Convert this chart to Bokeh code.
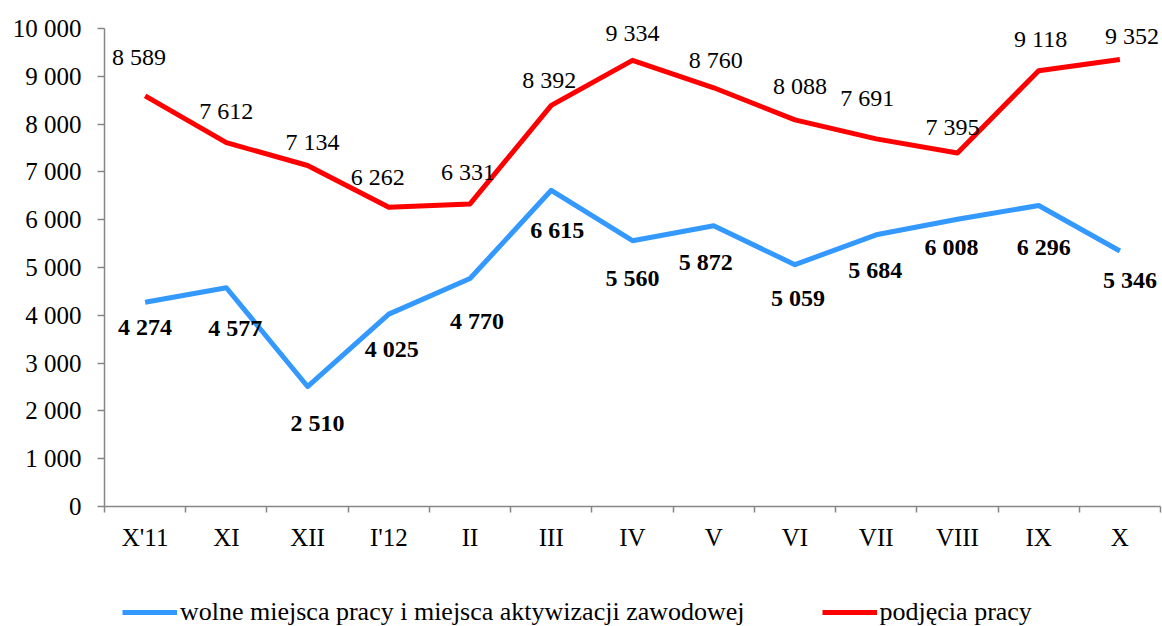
import numpy as np
from bokeh.plotting import figure
from bokeh.layouts import column
from bokeh.models import (ColumnDataSource, FixedTicker, Range1d, Legend, LegendItem)
from bokeh.core.properties import value
from bokeh.embed import file_html
from bokeh.resources import INLINE

# ---- data ----
months = ["X'11", "XI", "XII", "I'12", "II", "III", "IV", "V", "VI", "VII", "VIII", "IX", "X"]
oferty = [4274, 4577, 2510, 4025, 4770, 6615, 5560, 5872, 5059, 5684, 6008, 6296, 5346]
podjecia = [8589, 7612, 7134, 6262, 6331, 8392, 9334, 8760, 8088, 7691, 7395, 9118, 9352]
y_ticks = [0, 1000, 2000, 3000, 4000, 5000, 6000, 7000, 8000, 9000, 10000]
series_names = ["wolne miejsca pracy i miejsca aktywizacji zawodowej", "podjęcia pracy"]

# label placement (screen px offsets from each point)
red_dx = [-6, 0, 5, -11, -2, -2, 0, 2, 5, -9, -5, 2, 12]
red_dy = [-39, -32, -23, -30, -32, -25, -27, -28, -34, -41, -26, -32, -23]
blue_dx = [0, 9, 10, 3, 7, 6, 0, -8, 3, -1, -6, 5, 10]
blue_dy = [25, 40, 36, 35, 43, 40, 37, 36, 33, 35, 28, 41, 29]


def fmt(v):
    return f"{v:,}".replace(",", " ")


FONT = "Liberation Serif"
BLUE = "#3399FF"
RED = "#FF0000"
AXIS = "#868686"

# layout (px)
W = 1162
H_MAIN, H_LEG = 590, 36
LEFT, RIGHT, BOTTOM = 104, 2, 84
FRAME_H = H_MAIN - BOTTOM     # frame spans from top of figure to the zero line
PLOT_TOP_PAD = 28             # gap between figure top and the 10 000 line
y_max = max(y_ticks)
y_end = y_max * FRAME_H / (FRAME_H - PLOT_TOP_PAD)

xs = np.arange(len(months)) + 0.5

src_b = ColumnDataSource(dict(x=xs, y=oferty, lab=[fmt(v) for v in oferty], dx=blue_dx, dy=blue_dy))
src_r = ColumnDataSource(dict(x=xs, y=podjecia, lab=[fmt(v) for v in podjecia], dx=red_dx, dy=red_dy))

p = figure(width=W, height=H_MAIN, output_backend="svg", toolbar_location=None,
           x_range=Range1d(0, len(months)), y_range=Range1d(0, y_end),
           min_border_left=LEFT, min_border_right=RIGHT, min_border_top=0,
           min_border_bottom=BOTTOM)
p.outline_line_color = None
p.grid.grid_line_color = None
p.background_fill_color = "white"
p.border_fill_color = "white"

rb = p.line("x", "y", source=src_b, line_color=BLUE, line_width=5, line_join="round")
rr = p.line("x", "y", source=src_r, line_color=RED, line_width=5, line_join="round")

p.text("x", "y", text="lab", source=src_b, x_offset="dx", y_offset="dy",
       text_font=value(FONT), text_font_size="24px", text_font_style="bold",
       text_align="center", text_baseline="middle", text_color="black")
p.text("x", "y", text="lab", source=src_r, x_offset="dx", y_offset="dy",
       text_font=value(FONT), text_font_size="24px",
       text_align="center", text_baseline="middle", text_color="black")

# y axis
ya = p.yaxis[0]
ya.ticker = FixedTicker(ticks=y_ticks)
ya.bounds = (0, y_max)
ya.major_label_overrides = {t: fmt(t) for t in y_ticks}
ya.axis_line_color = AXIS
ya.axis_line_width = 1.5
ya.major_tick_line_color = AXIS
ya.major_tick_line_width = 1.5
ya.major_tick_out = 7
ya.major_tick_in = 0
ya.minor_tick_line_color = None
ya.major_label_text_font = FONT
ya.major_label_text_font_size = "25px"
ya.major_label_text_color = "black"
ya.major_label_standoff = 16

# x axis: labels at category centres, ticks at category boundaries
xa = p.xaxis[0]
xa.ticker = FixedTicker(ticks=list(xs), minor_ticks=list(range(len(months) + 1)))
xa.major_label_overrides = {float(x): m for x, m in zip(xs, months)}
xa.axis_line_color = AXIS
xa.axis_line_width = 1.5
xa.major_tick_line_color = None
xa.major_tick_out = 0
xa.major_tick_in = 0
xa.minor_tick_line_color = AXIS
xa.minor_tick_line_width = 1.5
xa.minor_tick_out = 6
xa.minor_tick_in = 0
xa.major_label_text_font = FONT
xa.major_label_text_font_size = "25px"
xa.major_label_text_color = "black"
xa.major_label_standoff = 11

# legend strip below the chart (legend samples only; ranges keep data out of view)
pl = figure(width=W, height=H_LEG, output_backend="svg", toolbar_location=None,
            x_range=Range1d(-2, -1), y_range=Range1d(-2, -1),
            x_axis_location=None, y_axis_location=None,
            min_border_left=0, min_border_right=0, min_border_top=0, min_border_bottom=0)
pl.outline_line_color = None
pl.grid.grid_line_color = None
pl.background_fill_color = "white"
pl.border_fill_color = "white"
lb = pl.line("x", "y", source=src_b, line_color=BLUE, line_width=5)
lr = pl.line("x", "y", source=src_r, line_color=RED, line_width=5)

legend = Legend(items=[LegendItem(label=series_names[0], renderers=[lb]),
                       LegendItem(label=series_names[1], renderers=[lr])],
                location=(18, -1), orientation="horizontal",
                glyph_width=55, glyph_height=20, label_standoff=3, spacing=77,
                padding=0, margin=0,
                label_text_font=FONT, label_text_font_size="26px",
                label_text_color="black",
                border_line_color=None, background_fill_alpha=0)
pl.add_layout(legend, "center")

layout = column(p, pl, spacing=0)
open("out.html", "w").write(file_html(layout, INLINE))
